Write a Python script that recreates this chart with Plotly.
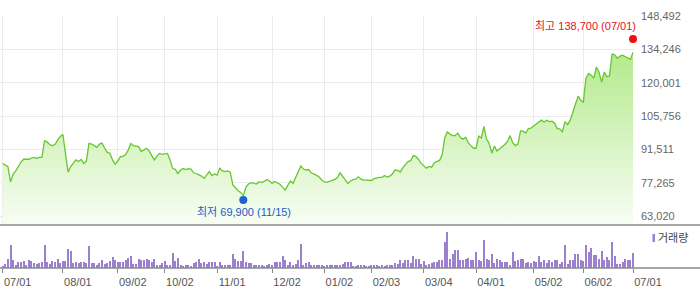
import plotly.graph_objects as go

# ---------------- data ----------------
tick_pos = [0, 23, 44, 62, 82, 103, 123, 141, 161, 181, 203, 222, 241]
tick_labels = ["07/01", "08/01", "09/02", "10/02", "11/01", "12/02", "01/02",
               "02/03", "03/04", "04/01", "05/02", "06/02", "07/01"]
price_ticks = [63020, 77265, 91511, 105756, 120001, 134246, 148492]

close = [
    85500, 84800, 84100, 77600, 81000, 82300, 84400, 86100, 87300, 87300,
    87300, 87800, 88100, 87700, 88100, 88100, 95200, 94600, 93600, 93100,
    93600, 95500, 97000, 97900, 89100, 81800, 84200, 85500, 87000, 86300,
    87200, 85500, 86500, 94100, 93800, 93100, 92400, 93800, 94200, 92000,
    90200, 89800, 87000, 85200, 86500, 88400, 88500, 89300, 91200, 94000,
    93100, 92900, 92700, 90600, 91200, 92000, 90800, 89100, 87000, 88700,
    89800, 89400, 89500, 89800, 87000, 83300, 83000, 81200, 82700, 83300,
    82900, 83300, 83100, 81500, 81200, 80800, 80100, 79100, 80800, 82000,
    80300, 81000, 80500, 83500, 82300, 82000, 82300, 81800, 76300, 74800,
    73800, 73100, 71700, 75400, 76700, 77300, 76900, 76700, 77600, 77400,
    77800, 78600, 78000, 77000, 77800, 77300, 76600, 75400, 74100, 76100,
    78000, 77000, 79700, 82000, 84400, 83100, 82700, 82900, 81400, 81000,
    80200, 79700, 78400, 77600, 77400, 78000, 78300, 78700, 79500, 81500,
    80100, 78800, 76900, 78000, 78600, 78800, 79800, 78800, 78400, 78400,
    78300, 78200, 79000, 79300, 79500, 79500, 80300, 79700, 80100, 81000,
    82700, 82500, 81800, 83700, 85000, 86300, 86700, 88900, 88400, 87200,
    85500, 84300, 83500, 84200, 83900, 85700, 86400, 86700, 89100, 96400,
    99000, 98100, 97400, 97400, 98500, 96600, 95900, 96600, 94400, 93100,
    92000, 92000, 97200, 96400, 101300, 95900, 94100, 89900, 92900, 90800,
    91700, 92500, 93600, 94900, 97400, 94400, 93100, 93800, 99400, 99300,
    98500, 100400, 100600, 101500, 102300, 103100, 104000, 103200, 104000, 103400,
    103600, 102800, 100500, 100200, 99100, 103400, 102100, 104000, 107500, 110500,
    114300, 112600, 111600, 122000, 123900, 123300, 122000, 126700, 124600, 120300,
    124600, 122600, 122900, 132300, 132000, 130500, 131400, 131800, 131200, 130300,
    130000, 132900,
]

volume = [
    7, 13, 27, 70, 25, 10, 19, 17, 22, 10,
    25, 20, 15, 13, 15, 17, 70, 18, 13, 22,
    17, 28, 15, 22, 22, 58, 50, 15, 17, 14,
    17, 17, 14, 65, 15, 15, 10, 15, 25, 13,
    15, 20, 32, 25, 19, 19, 19, 25, 30, 35,
    13, 12, 27, 23, 23, 27, 23, 17, 27, 10,
    8, 15, 22, 8, 10, 45, 22, 29, 10, 6,
    8, 10, 7, 15, 17, 28, 15, 19, 12, 19,
    19, 19, 7, 18, 8, 8, 8, 8, 43, 27,
    20, 20, 50, 17, 14, 14, 8, 10, 8, 10,
    5, 8, 13, 8, 18, 18, 18, 37, 25, 8,
    19, 10, 12, 25, 73, 10, 15, 18, 8, 8,
    10, 10, 8, 5, 8, 10, 8, 8, 10, 8,
    12, 18, 18,
    18, 5, 5, 10, 10, 10, 5, 7, 8, 10,
    10, 7, 8, 5, 8, 10, 10, 15, 12, 23,
    15, 23, 23, 15, 35, 28, 27, 13, 20, 8,
    12, 15, 19, 17, 23, 25, 77, 109, 27, 43,
    53, 55, 23, 23, 28, 30, 25, 23, 48, 25,
    21, 85, 28, 23, 42, 15, 27, 25, 18, 18,
    18, 10, 49, 20, 25, 28, 27, 15, 19, 15,
    21, 17, 37, 19, 25, 15, 25, 19, 25, 23,
    12, 19, 70, 13, 25, 23, 41, 41, 25, 22,
    70, 48, 60, 40, 40, 27, 52, 25, 33, 23,
    77, 37, 13, 13, 17, 27, 23, 23, 46,
]

high_idx, high_val, high_label = 241, 138700, "최고 138,700 (07/01)"
low_idx, low_val, low_label = 92, 69900, "최저 69,900 (11/15)"
volume_label = "거래량"

idx = list(range(len(close)))

# ---------------- layout geometry ----------------
W, H = 700, 289
PLOT_RIGHT = 634
PLOT_BOTTOM = 268          # pixel row of the volume baseline
PRICE_TOP, PRICE_BOTTOM, VOL_TOP = 16, 225, 226


def fy(px):
    return (PLOT_BOTTOM - px) / PLOT_BOTTOM


def fx(px):
    return px / PLOT_RIGHT


unit_per_px = (price_ticks[-1] - price_ticks[0]) / 200.0
y_bottom = price_ticks[-1] - (PRICE_BOTTOM - PRICE_TOP) * unit_per_px
x_range = [-1.03, 241.38]

FONT = "Liberation Sans, Arial, Noto Sans CJK KR, sans-serif"
GREEN = "#66c72f"
PURPLE = "#9b80cf"

fig = go.Figure()

fig.add_trace(go.Scatter(
    x=idx, y=close, mode="lines",
    line=dict(color=GREEN, width=1.3),
    fill="tozeroy",
    fillgradient=dict(type="vertical",
                      colorscale=[[0, "#f8fdf4"], [1, "#b3e98b"]],
                      start=y_bottom, stop=134000),
    xaxis="x", yaxis="y", hoverinfo="skip",
))

fig.add_trace(go.Scatter(
    x=[high_idx], y=[high_val], mode="markers",
    marker=dict(color="#f01010", size=8),
    xaxis="x", yaxis="y", hoverinfo="skip", cliponaxis=False,
))
fig.add_trace(go.Scatter(
    x=[low_idx], y=[low_val], mode="markers",
    marker=dict(color="#1f62d8", size=8),
    xaxis="x", yaxis="y", hoverinfo="skip", cliponaxis=False,
))

fig.add_trace(go.Bar(
    x=idx, y=volume, width=0.4,
    marker=dict(color=PURPLE, line=dict(width=0)),
    xaxis="x2", yaxis="y2", hoverinfo="skip",
))

fig.update_layout(
    width=W, height=H,
    margin=dict(l=0, r=W - PLOT_RIGHT, t=0, b=H - PLOT_BOTTOM, pad=0,
                autoexpand=False),
    paper_bgcolor="white", plot_bgcolor="white",
    showlegend=False, bargap=0,
    font=dict(family=FONT, size=11, color="#555"),
    xaxis=dict(domain=[0, 1], anchor="y", range=x_range, automargin=False,
               tickvals=tick_pos, showticklabels=False, ticks="",
               showgrid=True, gridcolor="#ebebeb", gridwidth=1,
               zeroline=False, showline=False),
    yaxis=dict(domain=[fy(PRICE_BOTTOM), fy(PRICE_TOP)], anchor="x",
               side="right", range=[y_bottom, price_ticks[-1] + 60],
               automargin=False,
               tickvals=price_ticks,
               ticktext=[f"{v:,}" for v in price_ticks],
               tickfont=dict(size=11, color="#666"),
               ticks="", ticklabelstandoff=6,
               showgrid=True, gridcolor="#ebebeb", gridwidth=1,
               zeroline=False, showline=False),
    xaxis2=dict(domain=[0, 1], anchor="y2", range=x_range, automargin=False,
                tickvals=tick_pos, ticktext=tick_labels,
                ticks="outside", ticklen=4, tickcolor="#888", tickwidth=1,
                ticklabelshift=15, ticklabelstandoff=0,
                tickfont=dict(size=11, color="#555"),
                showgrid=False, zeroline=False, showline=False),
    yaxis2=dict(domain=[0, fy(VOL_TOP)], anchor="x2", automargin=False,
                range=[0, 109 * (PLOT_BOTTOM - VOL_TOP) / 36.3],
                visible=False),
    shapes=[
        dict(type="line", xref="paper", yref="paper",
             x0=0, x1=W / PLOT_RIGHT, y0=fy(PRICE_BOTTOM), y1=fy(PRICE_BOTTOM),
             line=dict(color="#8a8a8a", width=1.5)),
        dict(type="line", xref="paper", yref="paper",
             x0=0, x1=W / PLOT_RIGHT, y0=0, y1=0,
             line=dict(color="#8a8a8a", width=1.5)),
        dict(type="rect", xref="paper", yref="paper",
             x0=fx(652.5), x1=fx(655), y0=fy(242), y1=fy(234),
             fillcolor=PURPLE, line=dict(width=0)),
    ],
    annotations=[
        dict(x=high_idx, y=high_val, xref="x", yref="y", text=high_label,
             showarrow=False, xanchor="right", yanchor="bottom",
             xshift=5, yshift=5,
             font=dict(size=11, color="#e8101a", family=FONT)),
        dict(x=low_idx, y=low_val, xref="x", yref="y", text=low_label,
             showarrow=False, xanchor="center", yanchor="top",
             xshift=1, yshift=-4,
             font=dict(size=11, color="#1a5cc8", family=FONT)),
        dict(x=fx(656), y=fy(238), xref="paper", yref="paper",
             text=volume_label, showarrow=False,
             xanchor="left", yanchor="middle",
             font=dict(size=11, color="#444", family=FONT)),
    ],
)

fig.write_html("out.html", config={"displayModeBar": False})
